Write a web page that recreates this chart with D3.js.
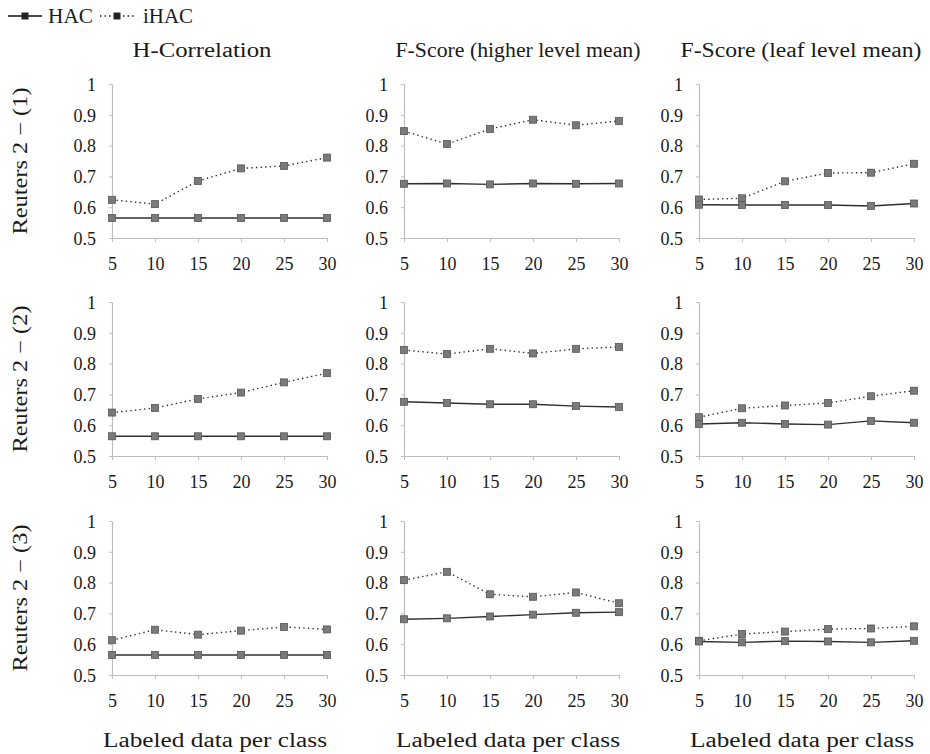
<!DOCTYPE html>
<html>
<head>
<meta charset="utf-8">
<script src="https://cdn.jsdelivr.net/npm/d3@7"></script>
</head>
<body style="margin:0">
<svg id="chart" width="930" height="754" font-family="serif"></svg>
<script>
// ---------------- data ----------------
const xValues = [5, 10, 15, 20, 25, 30];
const yTicks = [0.5, 0.6, 0.7, 0.8, 0.9, 1];
const yTickLabels = ["0.5", "0.6", "0.7", "0.8", "0.9", "1"];
const columnTitles = ["H-Correlation", "F-Score (higher level mean)", "F-Score (leaf level mean)"];
const rowTitles = ["Reuters 2 \u2212 (1)", "Reuters 2 \u2212 (2)", "Reuters 2 \u2212 (3)"];
const xAxisTitle = "Labeled data per class";
const seriesNames = ["HAC", "iHAC"];

// Row 1: Reuters 2 - (1)
const hac_r1_hcorr = [0.565, 0.565, 0.565, 0.565, 0.565, 0.565];
const ihac_r1_hcorr = [0.624, 0.610, 0.685, 0.726, 0.734, 0.761];
const hac_r1_fhigh = [0.676, 0.677, 0.674, 0.677, 0.676, 0.677];
const ihac_r1_fhigh = [0.847, 0.805, 0.854, 0.884, 0.866, 0.880];
const hac_r1_fleaf = [0.608, 0.607, 0.607, 0.607, 0.604, 0.612];
const ihac_r1_fleaf = [0.625, 0.629, 0.684, 0.711, 0.712, 0.741];
// Row 2: Reuters 2 - (2)
const hac_r2_hcorr = [0.564, 0.564, 0.564, 0.564, 0.564, 0.564];
const ihac_r2_hcorr = [0.641, 0.656, 0.685, 0.706, 0.739, 0.769];
const hac_r2_fhigh = [0.676, 0.672, 0.668, 0.668, 0.662, 0.659];
const ihac_r2_fhigh = [0.844, 0.831, 0.848, 0.833, 0.848, 0.854];
const hac_r2_fleaf = [0.604, 0.608, 0.604, 0.602, 0.614, 0.608];
const ihac_r2_fleaf = [0.626, 0.655, 0.664, 0.672, 0.694, 0.712];
// Row 3: Reuters 2 - (3)
const hac_r3_hcorr = [0.565, 0.565, 0.565, 0.565, 0.565, 0.565];
const ihac_r3_hcorr = [0.613, 0.647, 0.631, 0.644, 0.656, 0.648];
const hac_r3_fhigh = [0.681, 0.684, 0.690, 0.696, 0.702, 0.704];
const ihac_r3_fhigh = [0.808, 0.835, 0.762, 0.754, 0.768, 0.733];
const hac_r3_fleaf = [0.609, 0.606, 0.610, 0.609, 0.606, 0.611];
const ihac_r3_fleaf = [0.611, 0.633, 0.641, 0.649, 0.651, 0.658];

const panels = [
  [[hac_r1_hcorr, ihac_r1_hcorr], [hac_r1_fhigh, ihac_r1_fhigh], [hac_r1_fleaf, ihac_r1_fleaf]],
  [[hac_r2_hcorr, ihac_r2_hcorr], [hac_r2_fhigh, ihac_r2_fhigh], [hac_r2_fleaf, ihac_r2_fleaf]],
  [[hac_r3_hcorr, ihac_r3_hcorr], [hac_r3_fhigh, ihac_r3_fhigh], [hac_r3_fleaf, ihac_r3_fleaf]]
];

// ---------------- layout ----------------
const FONT = "serif";
const colLeft = [112, 404, 699];
const plotW = 215;
const rowTop = [84, 302, 521];
const plotH = 154;
const titleCenters = [202, 518, 801];
const titleWidths = [139, 245, 241];
const bottomCenters = [215, 508, 802];
const axisColor = "#bdbdbd";
const markerFill = "#7a7a7a";
const markerStroke = "#555";
const lineColor = "#2f2f2f";
const textColor = "#1a1a1a";

const svg = d3.select("#chart");

const x = d3.scaleLinear().domain([5, 30]);
const y = d3.scaleLinear().domain([0.5, 1]);

function styleText(sel, size) {
  return sel.attr("font-family", FONT).attr("font-size", size).attr("fill", textColor);
}

function drawMarkers(g, vals, xs, ys) {
  g.selectAll(null).data(vals).enter().append("rect")
    .attr("x", (d, i) => xs(xValues[i]) - 3.5)
    .attr("y", d => ys(d) - 3.5)
    .attr("width", 7).attr("height", 7)
    .attr("fill", markerFill)
    .attr("stroke", markerStroke)
    .attr("stroke-width", 0.8);
}

for (let r = 0; r < 3; r++) {
  for (let c = 0; c < 3; c++) {
    const xs = x.copy().range([colLeft[c], colLeft[c] + plotW]);
    const ys = y.copy().range([rowTop[r] + plotH, rowTop[r]]);
    const g = svg.append("g");

    // Y axis
    const yAxis = d3.axisLeft(ys).tickValues(yTicks).tickSize(3).tickSizeOuter(0)
      .tickFormat((d, i) => yTickLabels[i]);
    const ya = g.append("g").attr("transform", `translate(${colLeft[c]},0)`).call(yAxis)
      .attr("font-family", FONT).attr("font-size", 18);
    ya.select(".domain").attr("stroke", axisColor).attr("stroke-width", 1.2);
    ya.selectAll(".tick line").attr("stroke", axisColor);
    styleText(ya.selectAll(".tick text"), 18).attr("x", -16).attr("dy", "0.35em");

    // X axis
    const xAxis = d3.axisBottom(xs).tickValues(xValues).tickSize(4).tickSizeOuter(0)
      .tickFormat(d3.format("d"));
    const xa = g.append("g").attr("transform", `translate(0,${rowTop[r] + plotH})`).call(xAxis)
      .attr("font-family", FONT).attr("font-size", 18);
    xa.select(".domain").attr("stroke", axisColor).attr("stroke-width", 1.2);
    xa.selectAll(".tick line").attr("stroke", axisColor);
    styleText(xa.selectAll(".tick text"), 18).attr("y", 32).attr("dy", 0);

    const [hac, ihac] = panels[r][c];
    const line = d3.line().x((d, i) => xs(xValues[i])).y(d => ys(d));

    g.append("path").datum(ihac).attr("d", line)
      .attr("fill", "none").attr("stroke", lineColor).attr("stroke-width", 1.4)
      .attr("stroke-dasharray", "1.4,3.2");
    g.append("path").datum(hac).attr("d", line)
      .attr("fill", "none").attr("stroke", lineColor).attr("stroke-width", 1.4);

    drawMarkers(g, ihac, xs, ys);
    drawMarkers(g, hac, xs, ys);
  }
}

function addText(sel) {
  return styleText(sel.append("text"), 20);
}

// Column titles
columnTitles.forEach((t, c) => {
  addText(svg)
    .attr("x", titleCenters[c]).attr("y", 57)
    .attr("text-anchor", "middle")
    .attr("textLength", titleWidths[c]).attr("lengthAdjust", "spacingAndGlyphs")
    .text(t);
});

// Row titles
rowTitles.forEach((t, r) => {
  const cy = rowTop[r] + plotH / 2;
  addText(svg)
    .attr("transform", `translate(27,${cy}) rotate(-90)`)
    .attr("text-anchor", "middle")
    .attr("textLength", 147).attr("lengthAdjust", "spacingAndGlyphs")
    .text(t);
});

// Bottom axis titles
bottomCenters.forEach(cx => {
  addText(svg)
    .attr("x", cx).attr("y", 747)
    .attr("text-anchor", "middle")
    .attr("textLength", 224).attr("lengthAdjust", "spacingAndGlyphs")
    .text(xAxisTitle);
});

// Legend
const legend = svg.append("g");
const legendItems = [
  { name: seriesNames[0], x0: 8, x1: 42, dash: null, tx: 48, tw: 45 },
  { name: seriesNames[1], x0: 100, x1: 134, dash: "1.4,3.2", tx: 143, tw: 50 }
];
legendItems.forEach(it => {
  const ly = 16;
  legend.append("line")
    .attr("x1", it.x0).attr("x2", it.x1).attr("y1", ly).attr("y2", ly)
    .attr("stroke", "#111").attr("stroke-width", 1.4)
    .attr("stroke-dasharray", it.dash);
  legend.append("rect")
    .attr("x", (it.x0 + it.x1) / 2 - 3.5).attr("y", ly - 3.5)
    .attr("width", 7).attr("height", 7).attr("fill", "#222");
  addText(legend)
    .attr("x", it.tx).attr("y", ly + 7)
    .attr("textLength", it.tw).attr("lengthAdjust", "spacingAndGlyphs")
    .text(it.name);
});
</script>
</body>
</html>
